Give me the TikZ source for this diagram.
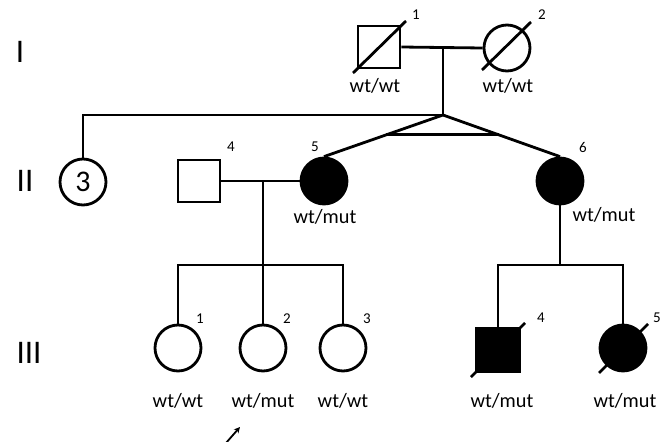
\documentclass[tikz,border=0pt]{standalone}
\usepackage{fontspec}
\setmainfont{Carlito}
\usetikzlibrary{calc,arrows.meta}

\tikzset{
  ln/.style={line width=2.8pt},
  male/.style={draw, line width=2.8pt, rectangle, minimum size=#1, inner sep=0pt},
  male/.default=42pt,
  female/.style={draw, line width=2.8pt, circle, minimum size=46pt, inner sep=0pt},
  affected/.style={fill=black},
  num/.style={font=\fontsize{15}{15}\selectfont, inner sep=0pt},
  geno/.style={font=\fontsize{20.3}{20.3}\selectfont, inner sep=0pt, anchor=base},
  gen/.style={font=\fontsize{33}{33}\selectfont, inner sep=0pt},
  slash/.style={line width=2.8pt}
}

\begin{document}
\begin{tikzpicture}[x=1pt, y=-1pt]
\useasboundingbox (0,0) rectangle (665,442);

% generation numerals
\node[gen] (genI) at (20,52) {I};
\node[gen] (genII) at (25,181) {II};
\node[gen] (genIII) at (29,353) {III};

% generation I
\node[male] (I1) at (379,47) {};
\node[female] (I2) at (507,48) {};
\draw[slash] ($(I1.center)+(-26,26)$) -- ($(I1.center)+(27,-26)$);
\draw[slash] ($(I2.center)+(-25,22)$) -- ($(I2.center)+(24,-26)$);
\node[num] (nI1) at (416,15) {1};
\node[num] (nI2) at (542,15) {2};
\node[geno] (gI1) at (375,92) {wt/wt};
\node[geno] (gI2) at (508,92) {wt/wt};

\coordinate (mI) at (443,48);
\coordinate (sI) at (443,115);
\draw[ln] (I1.east) -- (I2.west);
\draw[ln] (mI) -- (sI);

% generation II
\node[female] (II3) at (83,182) {\fontsize{30}{30}\selectfont 3};
\node[male] (II4) at (199,181) {};
\node[female, affected] (II5) at (324,181) {};
\node[female, affected] (II6) at (560,181) {};
\node[num] (nII4) at (231,147) {4};
\node[num] (nII5) at (315,147) {5};
\node[num] (nII6) at (583,147) {6};
\node[geno] (gII5) at (325,223) {wt/mut};
\node[geno] (gII6) at (604,221) {wt/mut};

\draw[ln] (sI) -| (II3.north);
\draw[ln] (sI) -- (II5.north);
\draw[ln] (sI) -- (II6.north);
% monozygotic twin bar
\draw[ln] ($(sI)!0.477!(II5.north)$) -- ($(sI)!0.477!(II6.north)$);

% generation III
\node[female] (III1) at (178,348) {};
\node[female] (III2) at (263,348) {};
\node[female] (III3) at (343,348) {};
\node[male=44pt, affected] (III4) at (498,350) {};
\node[female, affected] (III5) at (623,348) {};
\draw[slash] ($(III4.center)+(-27,27)$) -- ($(III4.center)+(27,-27)$);
\draw[slash] ($(III5.center)+(-24,25)$) -- ($(III5.center)+(25,-24)$);
\node[num] (nIII1) at (200,319) {1};
\node[num] (nIII2) at (287,319) {2};
\node[num] (nIII3) at (367,319) {3};
\node[num] (nIII4) at (541,318) {4};
\node[num] (nIII5) at (657,318) {5};
\node[geno] (gIII1) at (178,407) {wt/wt};
\node[geno] (gIII2) at (263,407) {wt/mut};
\node[geno] (gIII3) at (343,407) {wt/wt};
\node[geno] (gIII4) at (502,407) {wt/mut};
\node[geno] (gIII5) at (625,407) {wt/mut};

% sibship of II-4 x II-5
\coordinate (mII) at (263,181);
\coordinate (sII) at (263,265);
\draw[ln] (II4.east) -- (II5.west);
\draw[ln] (mII) -- (sII);
\draw[ln] (III1.north) |- (sII) -| (III3.north);
\draw[ln] (sII) -- (III2.north);

% sibship of II-6
\coordinate (sIII) at (560,265);
\draw[ln] (II6.south) -- (sIII);
\draw[ln] (III4.north) |- (sIII) -| (III5.north);

% proband arrow
\coordinate (arrTail) at (226,443);
\coordinate (arrTip) at (240,427);
\draw[line width=1.8pt, -{Stealth[length=6pt, width=6pt]}] (arrTail) -- (arrTip);
\end{tikzpicture}
\end{document}
